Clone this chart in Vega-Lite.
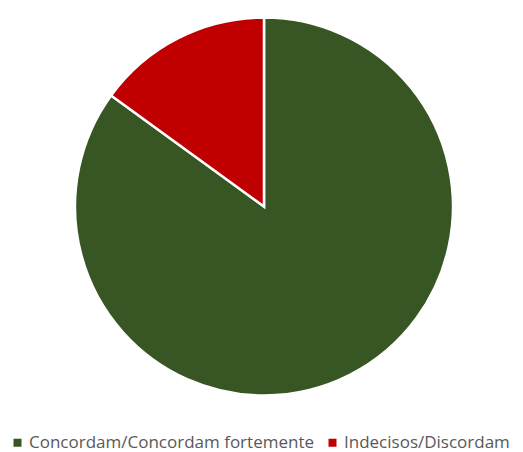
{
  "$schema": "https://vega.github.io/schema/vega-lite/v6.json",
  "width": 528,
  "height": 413,
  "autosize": {"type": "none"},
  "padding": {"left": 0, "top": 0, "right": 0, "bottom": 39},
  "background": "white",
  "data": {"values": [
    {"categoria": "Concordam/Concordam fortemente", "valor": 85, "ordem": 1},
    {"categoria": "Indecisos/Discordam", "valor": 15, "ordem": 2}
  ]},
  "mark": {"type": "arc", "outerRadius": 189, "stroke": "white", "strokeWidth": 2.5},
  "encoding": {
    "theta": {"field": "valor", "type": "quantitative", "stack": true},
    "order": {"field": "ordem", "type": "quantitative"},
    "color": {
      "field": "categoria",
      "type": "nominal",
      "scale": {"domain": ["Concordam/Concordam fortemente", "Indecisos/Discordam"], "range": ["#375623", "#C00000"]},
      "legend": {
        "title": null,
        "orient": "none",
        "direction": "horizontal",
        "legendX": 9,
        "legendY": 434,
        "symbolType": "square",
        "symbolSize": 64,
        "symbolStrokeWidth": 0,
        "labelFont": "Open Sans",
        "labelFontSize": 17,
        "labelColor": "#595959",
        "columnPadding": 10,
        "labelOffset": 3,
        "labelLimit": 400
      }
    }
  },
  "config": {"view": {"stroke": null}}
}
